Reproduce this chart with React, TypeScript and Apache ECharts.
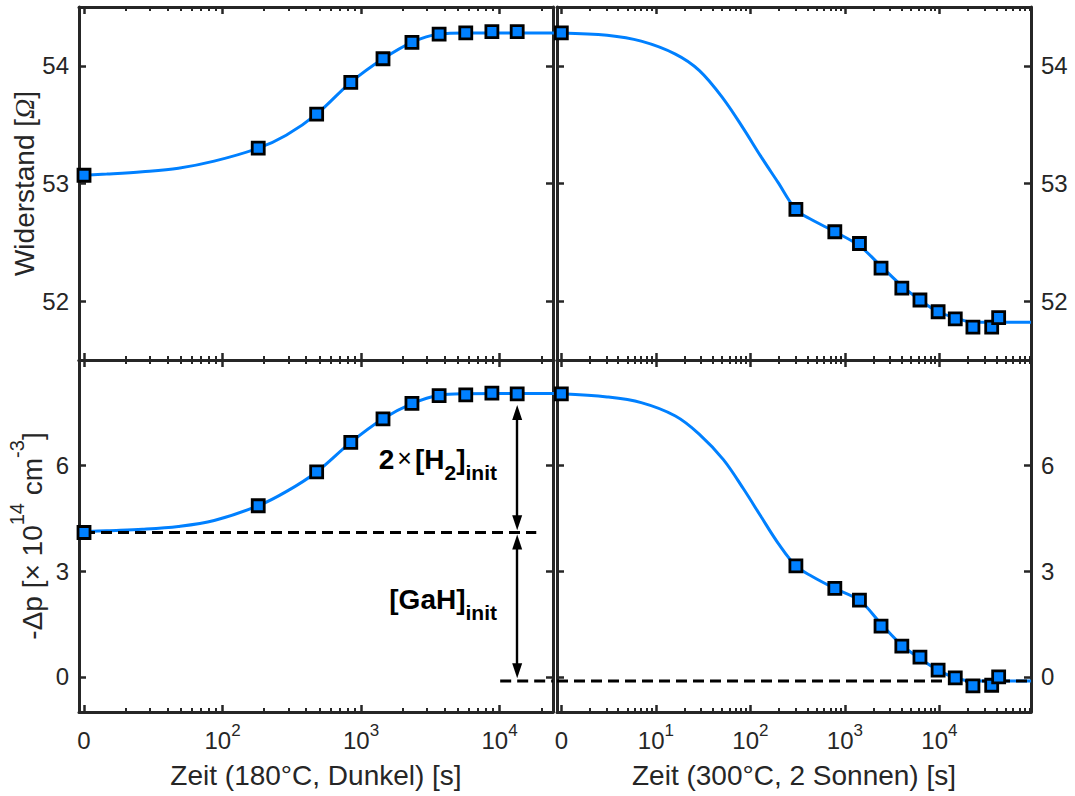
import React, { useEffect, useRef } from 'react';
import * as echarts from 'echarts';

const FONT = '"Liberation Sans", Arial, Helvetica, sans-serif';
const AXIS = '#262626';
const BLUE = '#0080FF';

// ---- axes ----
const leftMin = 9.2;
const leftMax = 24300;
const rightMin = 0.9;
const rightMax = 93000;
const leftZero = 10; // "0" is drawn at the 10^1 position of the left panels
const rightZero = 1; // "0" is drawn at the 10^0 position of the right panels
const leftMajor = [10, 100, 1000, 10000];
const rightMajor = [1, 10, 100, 1000, 10000];
const rTicks = [52, 53, 54];
const pTicks = [0, 3, 6];
const rRange = [51.5, 54.5];
const pRange = [-1, 9];

// ---- left panels (180 °C, dark) ----
const leftTime = [0, 181, 478, 843, 1440, 2330, 3660, 5700, 8800, 13400];
const leftR = [53.07, 53.3, 53.59, 53.86, 54.06, 54.2, 54.27, 54.28, 54.29, 54.29];
const leftP = [4.1, 4.86, 5.82, 6.66, 7.33, 7.77, 7.99, 8.01, 8.06, 8.04];
const leftFitTime = [0, 14.6, 26.4, 48, 87, 181, 288, 478, 843, 1440, 2330, 3660, 5600, 25000];
const leftFitR = [53.07, 53.08, 53.1, 53.13, 53.19, 53.3, 53.41, 53.59, 53.86, 54.06, 54.2, 54.27, 54.28, 54.28];
const leftFitP = [4.12, 4.15, 4.19, 4.27, 4.44, 4.86, 5.26, 5.82, 6.66, 7.33, 7.76, 8.0, 8.04, 8.05];

// ---- right panels (300 °C, 2 suns) ----
const rightTime = [0, 303, 782, 1425, 2410, 4000, 6220, 9680, 14700, 22600, 35700, 42300];
const rightR = [54.28, 52.78, 52.59, 52.49, 52.28, 52.11, 52.01, 51.91, 51.85, 51.78, 51.78, 51.86];
const rightP = [8.04, 3.15, 2.51, 2.18, 1.44, 0.87, 0.56, 0.19, -0.03, -0.26, -0.24, 0.0];
const rightFitTime = [0, 3.05, 7.0, 16.1, 28.9, 51.8, 85.4, 129, 196, 303, 451, 782, 1425, 2390, 4000, 6220, 9680, 14700, 22600, 35700, 93000];
const rightFitR = [54.28, 54.26, 54.21, 54.1, 53.96, 53.72, 53.46, 53.23, 53.01, 52.78, 52.69, 52.59, 52.47, 52.3, 52.13, 52.01, 51.91, 51.86, 51.82, 51.82, 51.82];
const rightFitP = [8.04, 7.95, 7.79, 7.41, 6.89, 6.17, 5.32, 4.56, 3.8, 3.15, 2.85, 2.51, 2.17, 1.52, 0.9, 0.52, 0.19, -0.03, -0.12, -0.12, -0.12];

// ---- annotations ----
const gahLevel = 4.1;
const zeroLevel = -0.12;
const gahLineEnd = 18400;
const zeroLineStart = 10100;
const arrowTime = 13400;
const arrowUpperTop = 7.72;
const arrowLowerBottom = -0.04;
const arrowGap = 0.06;

function minorTicks(min: number, max: number) {
  const out: number[] = [];
  for (let e = -1; e <= 5; e++) {
    for (let m = 2; m <= 9; m++) {
      const v = m * Math.pow(10, e);
      if (v >= min && v <= max) out.push(v);
    }
  }
  return out;
}

const lineStyle = { color: AXIS, width: 3 };
const tickStyle = { color: AXIS, width: 2.5 };

function logLabel(zero: number) {
  return (v: number) => {
    const lg = Math.log10(v);
    if (Math.abs(lg - Math.log10(zero)) < 1e-6) return '{n|0}';
    return `{n|10}{s|${Math.round(lg)}}`;
  };
}

const tickRich = {
  n: { fontSize: 24, fontFamily: FONT, color: AXIS, lineHeight: 37 },
  s: { fontSize: 17, fontFamily: FONT, color: AXIS, lineHeight: 17, verticalAlign: 'top' },
};

function makeXAxes(grid: number, min: number, max: number, major: number[], zero: number, labels: boolean, name: string) {
  const base: any = {
    type: 'log',
    logBase: 10,
    gridIndex: grid,
    min,
    max,
    splitLine: { show: false },
    minorTick: { show: false },
  };
  const minor = minorTicks(min, max);
  return [
    {
      ...base,
      position: 'bottom',
      axisLine: { show: true, onZero: false, lineStyle },
      axisTick: { show: true, inside: true, length: 7, customValues: major, lineStyle: tickStyle },
      axisLabel: labels
        ? { show: true, customValues: major, margin: 10, formatter: logLabel(zero), rich: tickRich }
        : { show: false },
      name: labels ? name : '',
      nameLocation: 'middle',
      nameGap: 49,
      nameTextStyle: { fontSize: 28, fontFamily: FONT, color: AXIS },
    },
    {
      ...base,
      position: 'bottom',
      axisLine: { show: false, onZero: false },
      axisTick: { show: true, inside: true, length: 4, customValues: minor, lineStyle: { color: AXIS, width: 2 } },
      axisLabel: { show: false },
    },
    {
      ...base,
      position: 'top',
      axisLine: { show: true, onZero: false, lineStyle },
      axisTick: { show: true, inside: true, length: 7, customValues: major, lineStyle: tickStyle },
      axisLabel: { show: false },
    },
    {
      ...base,
      position: 'top',
      axisLine: { show: false, onZero: false },
      axisTick: { show: true, inside: true, length: 4, customValues: minor, lineStyle: { color: AXIS, width: 2 } },
      axisLabel: { show: false },
    },
  ];
}

function makeYAxes(grid: number, range: number[], ticks: number[], labelSide: 'left' | 'right', name?: string, nameRich?: any, nameGap = 35) {
  const base: any = {
    type: 'value',
    gridIndex: grid,
    min: range[0],
    max: range[1],
    splitLine: { show: false },
    axisLine: { show: true, onZero: false, lineStyle },
    axisTick: { show: true, inside: true, length: 7, customValues: ticks, lineStyle: tickStyle },
  };
  const label = (show: boolean) => ({
    show,
    customValues: ticks,
    margin: 10,
    fontSize: 24,
    fontFamily: FONT,
    color: AXIS,
  });
  return [
    {
      ...base,
      position: 'left',
      axisLabel: label(labelSide === 'left'),
      name: name || '',
      nameLocation: 'middle',
      nameRotate: 90,
      nameGap,
      nameTextStyle: { fontSize: 28, fontFamily: FONT, color: AXIS, rich: nameRich },
    },
    {
      ...base,
      position: 'right',
      axisLabel: label(labelSide === 'right'),
    },
  ];
}

const toPts = (times: number[], vals: number[], zero: number) =>
  times.map((t, i) => [t === 0 ? zero : t, vals[i]]);

function curve(grid: number, times: number[], vals: number[], zero: number) {
  return {
    type: 'line',
    xAxisIndex: grid * 4,
    yAxisIndex: grid * 2,
    data: toPts(times, vals, zero),
    smooth: 0.35,
    showSymbol: false,
    symbol: 'none',
    lineStyle: { color: BLUE, width: 3 },
    z: 2,
    silent: true,
  };
}

function markers(grid: number, times: number[], vals: number[], zero: number) {
  return {
    type: 'scatter',
    xAxisIndex: grid * 4,
    yAxisIndex: grid * 2,
    data: toPts(times, vals, zero),
    symbol: 'rect',
    symbolSize: 12,
    itemStyle: { color: BLUE, borderColor: '#000', borderWidth: 2.8, opacity: 1 },
    z: 5,
    silent: true,
  };
}

function dashed(grid: number, pts: number[][], extra: any = {}) {
  return {
    type: 'line',
    xAxisIndex: grid * 4,
    yAxisIndex: grid * 2,
    data: pts,
    symbol: 'none',
    lineStyle: { color: '#000', width: 3, type: [11, 6] },
    z: 3,
    silent: true,
    ...extra,
  };
}

export default function App() {
  const ref = useRef<HTMLDivElement>(null);
  useEffect(() => {
    if (!ref.current) return;
    const chart = echarts.init(ref.current, null, { renderer: 'svg' });

    const headPx = 15;
    const pxPerUnit = 352 / (pRange[1] - pRange[0]);
    const half = headPx / 2 / pxPerUnit;

    const option: any = {
      animation: false,
      backgroundColor: '#ffffff',
      grid: [
        { left: 79, top: 7, width: 474, height: 353 },
        { left: 557, top: 7, width: 474, height: 353 },
        { left: 79, top: 360, width: 474, height: 352 },
        { left: 557, top: 360, width: 474, height: 352 },
      ],
      xAxis: [
        ...makeXAxes(0, leftMin, leftMax, leftMajor, leftZero, false, ''),
        ...makeXAxes(1, rightMin, rightMax, rightMajor, rightZero, false, ''),
        ...makeXAxes(2, leftMin, leftMax, leftMajor, leftZero, true, 'Zeit (180°C, Dunkel) [s]'),
        ...makeXAxes(3, rightMin, rightMax, rightMajor, rightZero, true, 'Zeit (300°C, 2 Sonnen) [s]'),
      ],
      yAxis: [
        ...makeYAxes(0, rRange, rTicks, 'left', '{a|Widerstand [}{o|Ω}{a|]}', {
          a: { fontSize: 28, fontFamily: FONT, color: AXIS },
          o: { fontSize: 28, fontFamily: '"Liberation Serif", serif', fontStyle: 'italic', color: AXIS },
        }, 35),
        ...makeYAxes(1, rRange, rTicks, 'right'),
        ...makeYAxes(2, pRange, pTicks, 'left', '{a|-Δp [× 10}{s|14}{a| cm}{s|-3}{a|]}', {
          a: { fontSize: 28, fontFamily: FONT, color: AXIS, lineHeight: 50 },
          s: { fontSize: 20, fontFamily: FONT, color: AXIS, lineHeight: 20, verticalAlign: 'top' },
        }, 22),
        ...makeYAxes(3, pRange, pTicks, 'right'),
      ],
      series: [
        curve(0, leftFitTime, leftFitR, leftZero),
        markers(0, leftTime, leftR, leftZero),
        curve(1, rightFitTime, rightFitR, rightZero),
        markers(1, rightTime, rightR, rightZero),
        curve(2, leftFitTime, leftFitP, leftZero),
        dashed(2, [[leftZero, gahLevel], [gahLineEnd, gahLevel]]),
        dashed(2, [[zeroLineStart, zeroLevel], [leftMax, zeroLevel]], {
          markLine: {
            silent: true,
            symbol: ['triangle', 'triangle'],
            symbolSize: [10, headPx],
            label: { show: false },
            emphasis: { disabled: true },
            lineStyle: { color: '#000', width: 2.4, type: 'solid' },
            data: [
              [
                { coord: [arrowTime, arrowUpperTop - half] },
                { coord: [arrowTime, gahLevel + arrowGap + half] },
              ],
              [
                { coord: [arrowTime, gahLevel - arrowGap - half] },
                { coord: [arrowTime, arrowLowerBottom + half] },
              ],
            ],
          },
        }),
        markers(2, leftTime, leftP, leftZero),
        curve(3, rightFitTime, rightFitP, rightZero),
        dashed(3, [[rightMin, zeroLevel], [rightMax, zeroLevel]]),
        markers(3, rightTime, rightP, rightZero),
      ],
      graphic: [
        {
          type: 'text',
          x: 497,
          y: 445,
          silent: true,
          style: {
            text: '{b|2}{x|×}{b|[H}{s|2}{b|]}{s|init}',
            align: 'right',
            verticalAlign: 'top',
            rich: {
              b: { fontSize: 28, fontWeight: 'bold', fontFamily: FONT, fill: '#000', lineHeight: 28, verticalAlign: 'top' },
              x: { fontSize: 25, fontFamily: FONT, fill: '#000', lineHeight: 28, verticalAlign: 'top', padding: [0, 3, 0, 3] },
              s: { fontSize: 21, fontWeight: 'bold', fontFamily: FONT, fill: '#000', lineHeight: 54 },
            },
          },
        },
        {
          type: 'text',
          x: 497,
          y: 585,
          silent: true,
          style: {
            text: '{b|[GaH]}{s|init}',
            align: 'right',
            verticalAlign: 'top',
            rich: {
              b: { fontSize: 28, fontWeight: 'bold', fontFamily: FONT, fill: '#000', lineHeight: 28, verticalAlign: 'top' },
              s: { fontSize: 21, fontWeight: 'bold', fontFamily: FONT, fill: '#000', lineHeight: 54 },
            },
          },
        },
      ],
    };
    chart.setOption(option);
    return () => chart.dispose();
  }, []);
  return (
    <div
      ref={ref}
      style={{ position: 'fixed', left: 0, top: 0, width: 1075, height: 796, background: '#fff' }}
    />
  );
}
